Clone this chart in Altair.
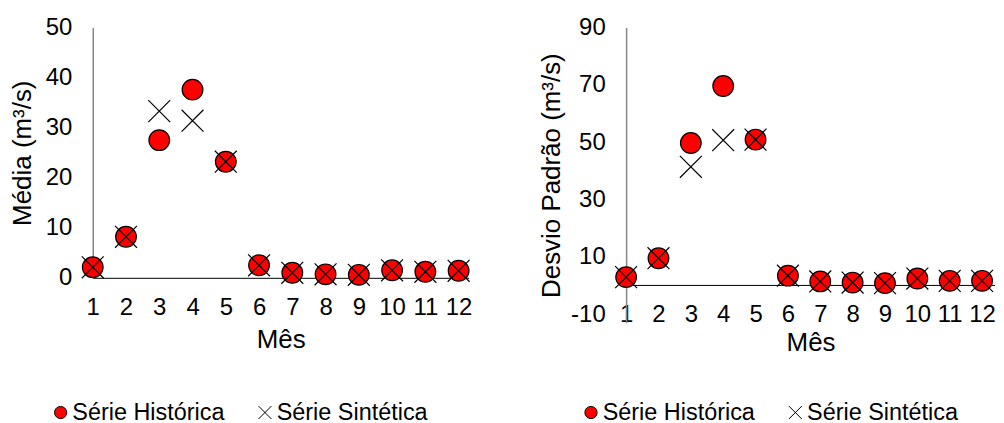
import altair as alt
import pandas as pd

meses = list(range(1, 13))
series = ["Série Histórica", "Série Sintética"]

media_hist = [2.1, 8.2, 27.5, 37.6, 23.2, 2.5, 1.0, 0.7, 0.6, 1.5, 1.2, 1.4]
media_sint = [2.1, 8.2, 33.3, 31.4, 23.2, 2.5, 1.0, 0.7, 0.6, 1.5, 1.2, 1.4]

desvio_hist = [2.9, 9.5, 49.7, 69.6, 50.9, 3.4, 1.4, 1.0, 0.8, 2.4, 1.6, 1.6]
desvio_sint = [2.9, 9.5, 41.4, 50.7, 50.9, 3.4, 1.4, 1.0, 0.8, 2.4, 1.6, 1.6]

media_ticks = [0, 10, 20, 30, 40, 50]
desvio_ticks = [-10, 10, 30, 50, 70, 90]

FONT = "Liberation Sans"
X_PATH = "M-1.06,-1.06L1.06,1.06M-1.06,1.06L1.06,-1.06"


def long_df(hist, sint):
    rows = []
    for m, v in zip(meses, hist):
        rows.append({"Mês": m, "Série": series[0], "valor": v})
    for m, v in zip(meses, sint):
        rows.append({"Mês": m, "Série": series[1], "valor": v})
    return pd.DataFrame(rows)


def encodings(ytitle, ydomain, yvalues, xdomain, x_label_pad, x_title_pad,
              x_domain_line, leg_x, y_title_pad):
    legend = alt.Legend(
        title=None, orient="none", legendX=leg_x, legendY=374,
        direction="horizontal", labelFontSize=23.5, labelFont=FONT,
        labelColor="black", symbolSize=150, symbolStrokeColor="black",
        symbolStrokeWidth=1, columnPadding=28, labelOffset=0, padding=0,
        symbolOpacity=1,
    )
    x = alt.X(
        "Mês:Q",
        scale=alt.Scale(domain=xdomain, nice=False, zero=False),
        axis=alt.Axis(
            values=meses, format="d", title="Mês", ticks=False, grid=False,
            domain=x_domain_line, domainColor="black", domainWidth=1,
            labelPadding=x_label_pad, titlePadding=x_title_pad,
            labelFontSize=24, titleFontSize=26, labelFlush=False,
            labelOverlap=False,
        ),
    )
    y = alt.Y(
        "valor:Q",
        scale=alt.Scale(domain=ydomain, nice=False, zero=False),
        axis=alt.Axis(
            values=yvalues, title=ytitle, ticks=False, grid=False,
            domainColor="#868686", domainWidth=1.5, labelPadding=21,
            titlePadding=y_title_pad, labelFontSize=24, titleFontSize=26,
            labelOverlap=False,
            labelExpr="replace(datum.label, '\u2212', '-')",
        ),
    )
    shape = alt.Shape("Série:N",
                      scale=alt.Scale(domain=series, range=["circle", X_PATH]),
                      legend=legend)
    fill = alt.Fill("Série:N",
                    scale=alt.Scale(domain=series, range=["#FF0000", "transparent"]),
                    legend=legend)
    stroke = alt.Stroke("Série:N",
                        scale=alt.Scale(domain=series, range=["#000000", "#000000"]),
                        legend=legend)
    return x, y, shape, fill, stroke


def points(df, x, y, shape, fill, stroke):
    return alt.Chart(df).mark_point(
        filled=True, strokeWidth=1.2, opacity=1, size=430
    ).encode(x=x, y=y, shape=shape, fill=fill, stroke=stroke)


df_m = long_df(media_hist, media_sint)
df_d = long_df(desvio_hist, desvio_sint)

xl, yl, sl, fl, stl = encodings("Média (m³/s)", [0, 50], media_ticks, [1, 12.3],
                                18, 7, True, -44, 10)
left = points(df_m, xl, yl, sl, fl, stl).properties(width=377, height=251)

xr, yr, sr, fr, str_ = encodings("Desvio Padrão (m³/s)", [-13, 90], desvio_ticks, [1, 12.4],
                                 -20, 3, False, -47, 6)
zero_rule = alt.Chart(pd.DataFrame({"valor": [0]})).mark_rule(
    color="black", strokeWidth=1
).encode(
    y=yr,
    x=alt.value(0),
    x2=alt.value(370),
)
right = alt.layer(zero_rule, points(df_d, xr, yr, sr, fr, str_)).properties(width=370, height=296)

chart = alt.hconcat(left, right, spacing=66).resolve_scale(
    shape="independent", fill="independent", stroke="independent"
).properties(
    padding={"top": 7, "left": 1, "right": 0, "bottom": 0}
).configure(font=FONT).configure_view(stroke=None).configure_axis(
    labelColor="black", titleColor="black", titleFontWeight="normal",
    labelFont=FONT, titleFont=FONT,
)

chart.save("out.html", embed_options={"renderer": "svg", "actions": False})
